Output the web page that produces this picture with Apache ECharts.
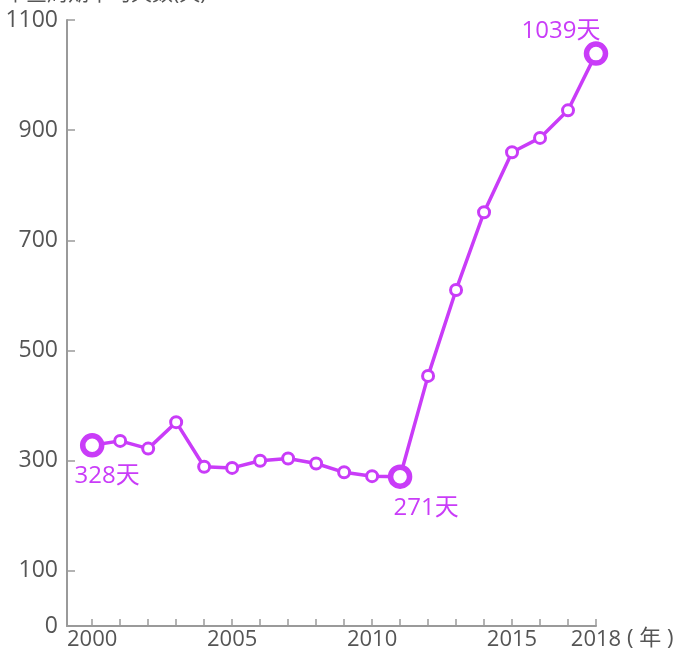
<!DOCTYPE html>
<html>
<head>
<meta charset="utf-8">
<script src="https://cdn.jsdelivr.net/npm/echarts@6/dist/echarts.min.js"></script>
<style>
html,body{margin:0;padding:0;background:#fff;}
#chart{width:680px;height:653px;}
</style>
</head>
<body>
<div id="chart"></div>
<script>
const years = [2000,2001,2002,2003,2004,2005,2006,2007,2008,2009,2010,2011,2012,2013,2014,2015,2016,2017,2018];
const days = [328,336,322,370,289,287,300,304,295,279,272,271,454,610,751,860,886,936,1039];
const yTickLabels = [0,100,300,500,700,900,1100];
const yTicks = [100,300,500,700,900,1100];
const xTickLabels = [2000,2005,2010,2015,2018];
const highlightYears = [2000,2011,2018];
const titleText = '审查周期平均天数(天)';
const xName = '( 年 )';

const purple = '#c93cf8';
const gray = '#555';
const axisGray = '#9a9a9a';
const font = '"Open Sans","Noto Sans CJK SC",sans-serif';

const labelPlacement = {
  2000: {position: 'bottom', offset: [15, 2]},
  2011: {position: 'bottom', offset: [26, 2]},
  2018: {position: 'top', offset: [-35, 7]}
};

const seriesData = years.map((y, i) => {
  const item = {value: [y, days[i]]};
  if (highlightYears.includes(y)) {
    item.symbolSize = 19;
    item.itemStyle = {borderWidth: 5.5};
    item.label = Object.assign({
      show: true,
      formatter: days[i] + '天',
      color: purple,
      fontSize: 24,
      fontFamily: font
    }, labelPlacement[y]);
  }
  return item;
});

const chart = echarts.init(document.getElementById('chart'), null, {renderer: 'canvas'});
chart.setOption({
  animation: false,
  backgroundColor: '#fff',
  title: {
    text: titleText,
    left: 0,
    top: -21,
    textStyle: {fontSize: 21, fontWeight: 'normal', color: gray, fontFamily: font}
  },
  grid: {left: 67, right: 84, top: 20, bottom: 27, containLabel: false},
  xAxis: {
    type: 'value',
    min: 1999.1,
    max: 2018,
    name: xName,
    nameLocation: 'end',
    nameGap: 26,
    nameTextStyle: {color: gray, fontSize: 22, fontFamily: font, verticalAlign: 'top', padding: [2, 0, 0, 0]},
    axisLine: {show: true, lineStyle: {color: axisGray, width: 2}},
    axisTick: {show: true, inside: true, length: 7, lineStyle: {color: axisGray, width: 1.5}, customValues: years},
    axisLabel: {
      color: gray, fontSize: 22, fontFamily: font, margin: 3,
      customValues: xTickLabels,
      formatter: v => String(v)
    },
    splitLine: {show: false}
  },
  yAxis: {
    type: 'value',
    min: 0,
    max: 1100,
    axisLine: {show: true, lineStyle: {color: axisGray, width: 2}},
    axisTick: {show: true, inside: true, length: 8, lineStyle: {color: axisGray, width: 1.5}, customValues: yTicks},
    axisLabel: {
      color: gray, fontSize: 23, fontFamily: font, margin: 9,
      customValues: yTickLabels,
      formatter: v => String(v)
    },
    splitLine: {show: false}
  },
  series: [{
    type: 'line',
    data: seriesData,
    symbol: 'circle',
    symbolSize: 11,
    showAllSymbol: true,
    lineStyle: {color: purple, width: 3.5},
    itemStyle: {color: '#fff', borderColor: purple, borderWidth: 3},
    label: {show: false},
    emphasis: {disabled: true},
    z: 3
  }]
});
</script>
</body>
</html>
